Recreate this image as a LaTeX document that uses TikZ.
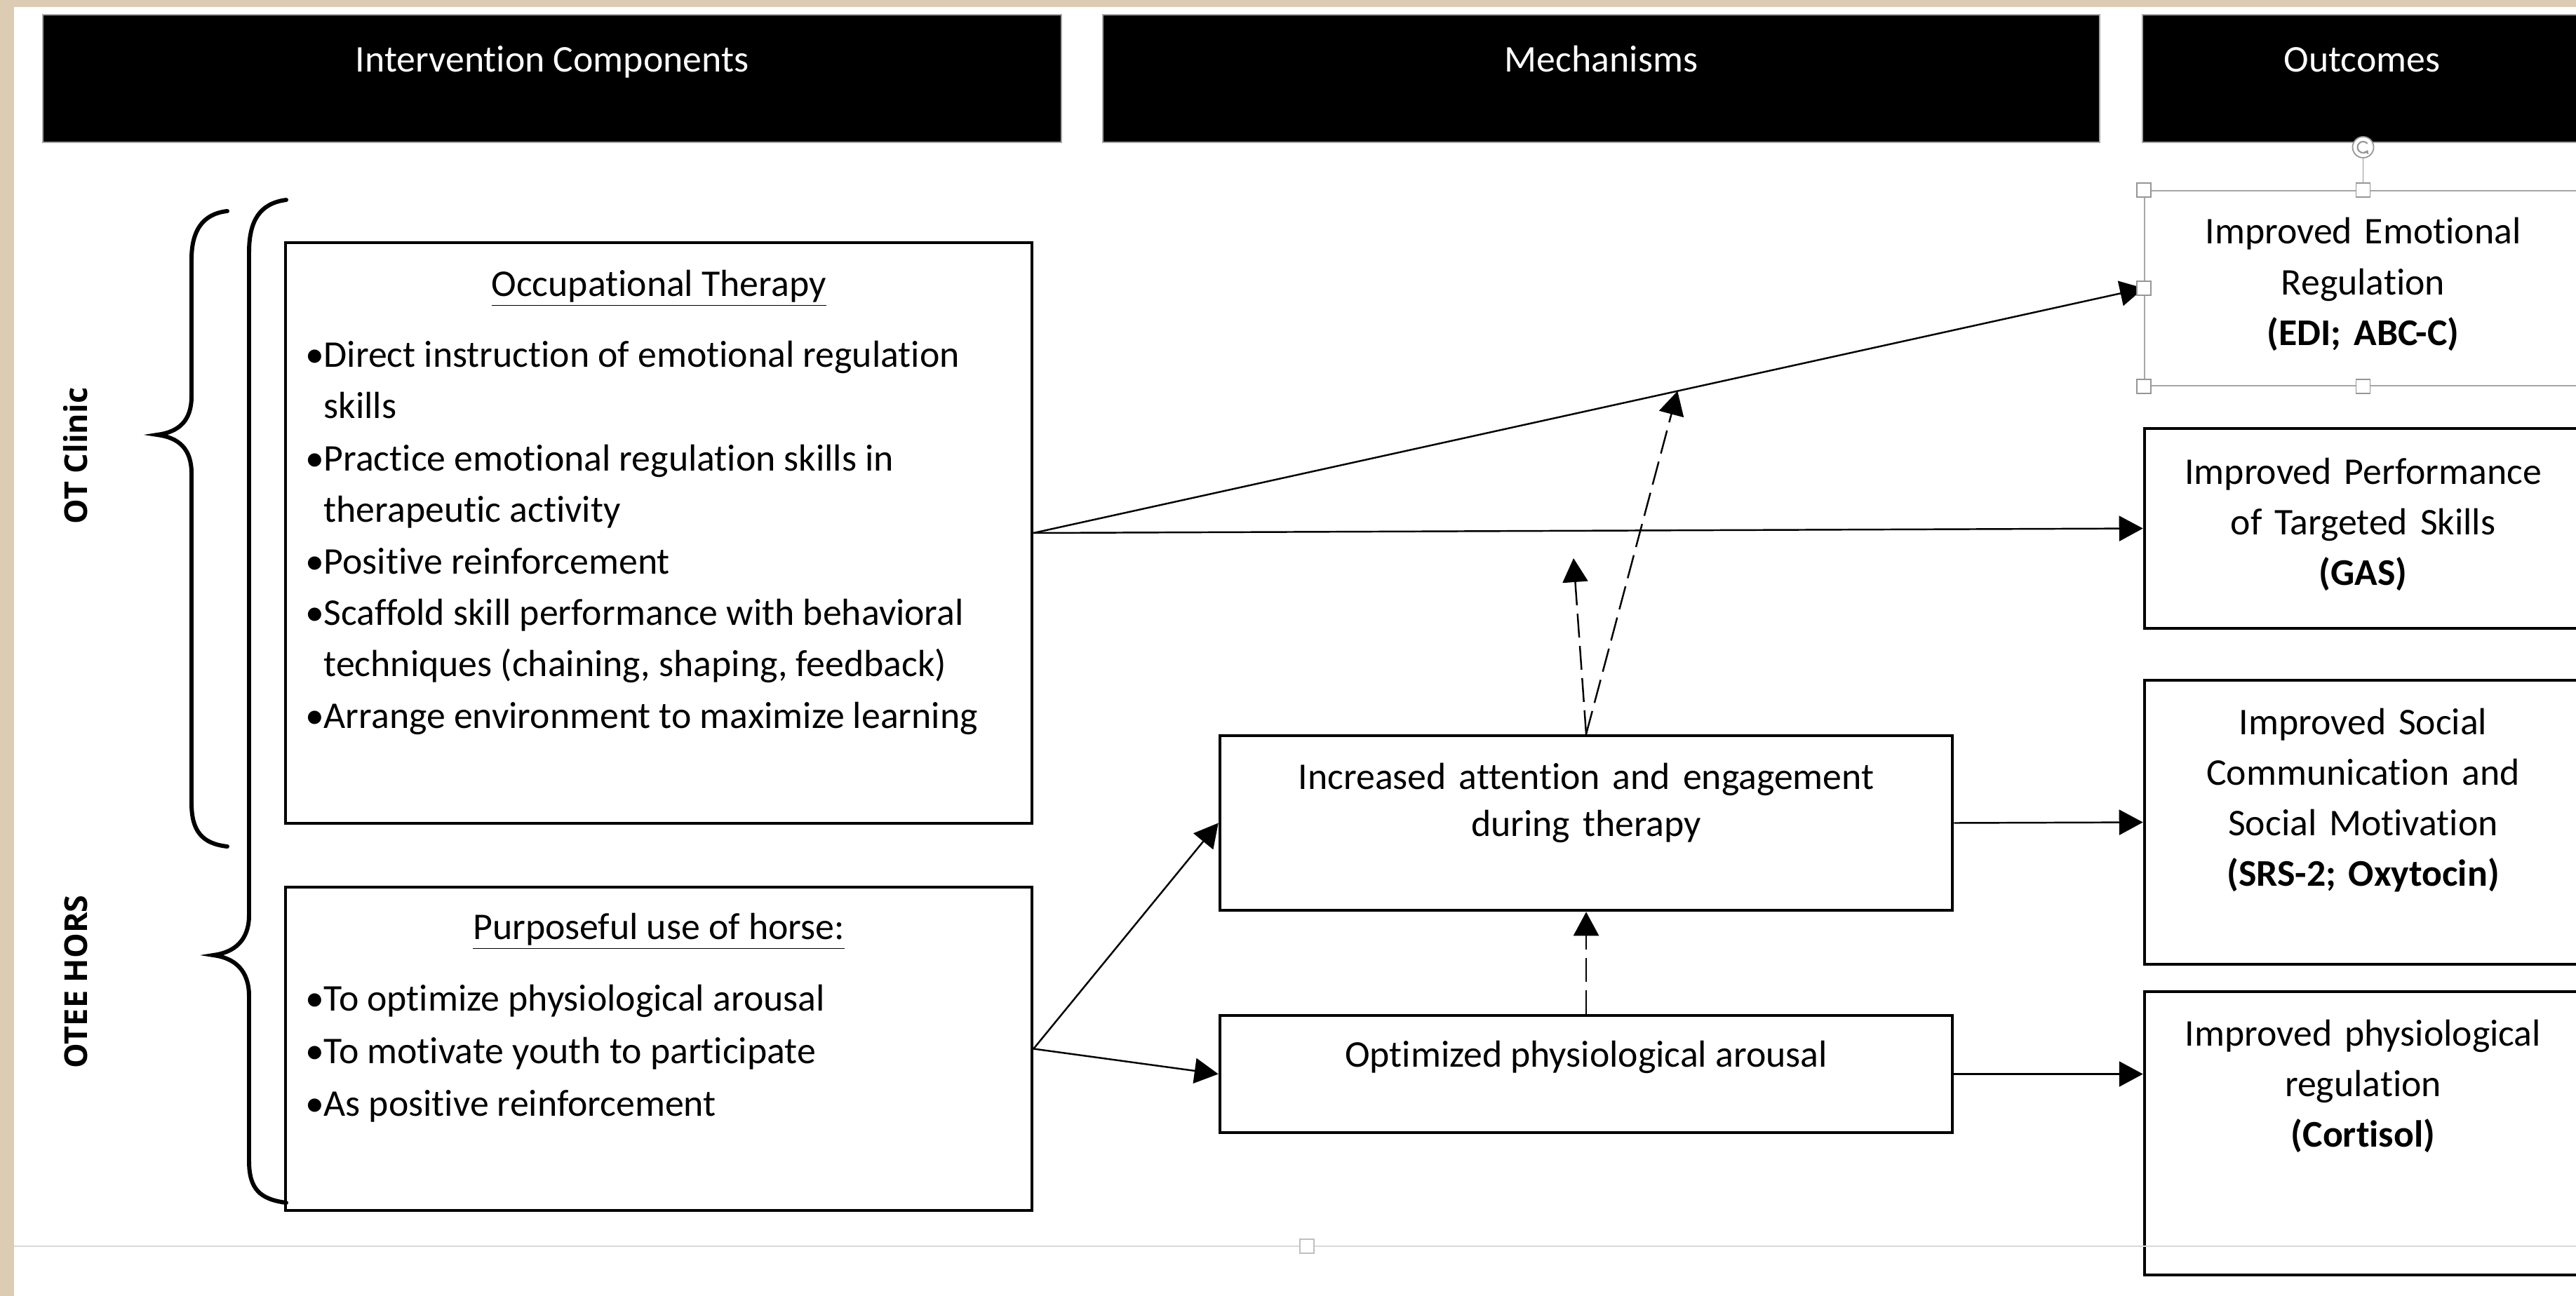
\documentclass[tikz,border=0pt]{standalone}
\usepackage{fontspec}
\setmainfont{Carlito}[Ligatures=NoCommon]
\newfontfamily\sidefont{Open Sans}
\usetikzlibrary{arrows.meta,positioning,calc}
\frenchspacing

\definecolor{paper}{RGB}{221,204,180}
\definecolor{handlegray}{RGB}{150,150,150}

\tikzset{
  hdr/.style={fill=black, draw=gray!70, line width=0.4pt, text=white, inner sep=0pt,
    text height=0.82cm, text depth=1.0cm, font=\fontsize{15.3}{18}\selectfont},
  box/.style={draw=black, line width=1.3pt, inner sep=0pt},
  txt/.style={font=\fontsize{15.3}{20.5}\selectfont, inner sep=0pt},
  flow/.style={line width=0.7pt, -{Triangle[length=3.4mm,width=3.6mm]}},
  dflow/.style={flow, dash pattern=on 3.4mm off 1.2mm},
  brace/.style={line width=1.7pt, line cap=round},
  grip/.style={draw=handlegray, fill=white, line width=0.5pt, minimum size=0.2cm, inner sep=0pt},
  side/.style={font=\sidefont\bfseries\fontsize{12.8}{15}\selectfont, rotate=90, anchor=base, inner sep=0pt},
}

\newcommand{\blt}{\makebox[0.26cm][l]{\textbullet}}

\begin{document}
\begin{tikzpicture}
    \useasboundingbox (0,0) rectangle (36.72,-18.48);
    \clip (0,0) rectangle (36.72,-18.48);
    \fill[paper] (0,0) rectangle (36.72,-18.48);
    \fill[white] (0.20,-0.10) rectangle (36.72,-18.48);

    % column headers
    \node[hdr, minimum width=14.52cm] (hint) at (7.87,-1.12) {Intervention Components};
    \node[hdr, minimum width=14.21cm] (hmech) at (22.825,-1.12) {Mechanisms};
    \node[hdr, minimum width=6.26cm] (hout) at (33.67,-1.12) {Outcomes};

    % intervention components
    \node[box, minimum width=10.64cm, minimum height=8.28cm] (ot) at (9.39,-7.60) {};
    \node[txt, anchor=base] (ottitle) at (9.39,-4.22) {\underline{Occupational Therapy}};
    \node[txt, anchor=base west] (ot1) at (4.35,-5.24) {\blt Direct instruction of emotional regulation};
    \node[txt, anchor=base west] (ot2) at (4.61,-5.97) {skills};
    \node[txt, anchor=base west] (ot3) at (4.35,-6.71) {\blt Practice emotional regulation skills in};
    \node[txt, anchor=base west] (ot4) at (4.61,-7.44) {therapeutic activity};
    \node[txt, anchor=base west] (ot5) at (4.35,-8.18) {\blt Positive reinforcement};
    \node[txt, anchor=base west] (ot6) at (4.35,-8.91) {\blt Scaffold skill performance with behavioral};
    \node[txt, anchor=base west] (ot7) at (4.61,-9.64) {techniques (chaining, shaping, feedback)};
    \node[txt, anchor=base west] (ot8) at (4.35,-10.38) {\blt Arrange environment to maximize learning};

    \node[box, minimum width=10.64cm, minimum height=4.61cm] (otee) at (9.39,-14.955) {};
    \node[txt, anchor=base] (oteetitle) at (9.39,-13.39) {\underline{Purposeful use of horse:}};
    \node[txt, anchor=base west] (otee1) at (4.35,-14.41) {\blt To optimize physiological arousal};
    \node[txt, anchor=base west] (otee2) at (4.35,-15.16) {\blt To motivate youth to participate};
    \node[txt, anchor=base west] (otee3) at (4.35,-15.91) {\blt As positive reinforcement};

    % braces and setting labels
    \draw[brace] (3.24,-3.01) .. controls (2.88,-3.05) and (2.73,-3.30) .. (2.73,-3.70)
        -- (2.73,-5.65) .. controls (2.73,-6.00) and (2.55,-6.16) .. (2.24,-6.20)
        .. controls (2.55,-6.24) and (2.73,-6.40) .. (2.73,-6.75)
        -- (2.73,-11.45) .. controls (2.73,-11.85) and (2.88,-12.03) .. (3.24,-12.07);
    \draw[brace] (4.08,-2.85) .. controls (3.70,-2.90) and (3.55,-3.15) .. (3.55,-3.60)
        -- (3.55,-13.05) .. controls (3.55,-13.40) and (3.35,-13.58) .. (3.04,-13.62)
        .. controls (3.35,-13.66) and (3.55,-13.84) .. (3.55,-14.20)
        -- (3.55,-16.55) .. controls (3.55,-16.95) and (3.70,-17.10) .. (4.08,-17.15);
    \node[side] (otclinic) at (1.25,-6.50) {OT Clinic};
    \node[side] (oteehors) at (1.25,-14.00) {OTEE HORS};

    % mechanisms
    \node[box, minimum width=10.44cm, minimum height=2.49cm] (inc) at (22.61,-11.735) {};
    \node[txt, text width=9cm, align=center, anchor=base, font=\fontsize{15.3}{19.1}\selectfont] (inct) at (22.61,-11.25) {Increased attention and engagement\\during therapy};
    \node[box, minimum width=10.44cm, minimum height=1.67cm] (opt) at (22.61,-15.315) {};
    \node[txt, anchor=base] (optt) at (22.61,-15.21) {Optimized physiological arousal};

    % outcomes
    \node[draw=gray!70, line width=0.6pt, minimum width=6.23cm, minimum height=2.78cm, inner sep=0pt] (out1) at (33.685,-4.11) {};
    \node[txt, text width=6cm, align=center, anchor=base] (out1t) at (33.685,-3.48) {Improved Emotional\\Regulation\\\textbf{(EDI; ABC-C)}};
    \node[box, minimum width=6.23cm, minimum height=2.85cm] (out2) at (33.685,-7.535) {};
    \node[txt, text width=6cm, align=center, anchor=base] (out2t) at (33.685,-6.90) {Improved Performance\\of Targeted Skills\\\textbf{(GAS)}};
    \node[box, minimum width=6.23cm, minimum height=4.05cm] (out3) at (33.685,-11.725) {};
    \node[txt, text width=6cm, align=center, anchor=base] (out3t) at (33.685,-10.47) {Improved Social\\Communication and\\Social Motivation\\\textbf{(SRS-2; Oxytocin)}};
    \node[box, minimum width=6.23cm, minimum height=4.04cm] (out4) at (33.685,-16.16) {};
    \node[txt, text width=6cm, align=center, anchor=base] (out4t) at (33.685,-14.91) {Improved physiological\\regulation\\\textbf{(Cortisol)}};

    % connectors
    \draw[flow] (ot.east) -- (out1.west);
    \draw[flow] (ot.east) -- (out2.west);
    \draw[flow] (otee.east) -- (inc.west);
    \draw[flow] (otee.east) -- (opt.west);
    \draw[flow] (inc.east) -- (out3.west);
    \draw[flow] (opt.east) -- (opt.east -| out4.west);
    \draw[dflow] (opt.north) -- (inc.south);
    \coordinate (modtip) at ($(ot.east)!0.58!(out1.west)$);
    \coordinate (modfree) at (22.43,-7.96);
    \draw[dflow] (inc.north) -- (modtip);
    \draw[dflow] (inc.north) -- (modfree);

    % selection handles
    \node[grip] (g1) at (out1.north west) {};
    \node[grip] (g3) at (out1.south west) {};
    \node[grip] (g4) at (out1.south) {};
    \node[grip] (g5) at (out1.west) {};
    \node[circle, draw=handlegray, fill=white, line width=0.5pt, minimum size=0.3cm, inner sep=0pt] (rot) at ($(out1.north)+(0,0.61)$) {};
    \draw[handlegray, line width=0.5pt] (rot) -- (out1.north);
    \node[grip] (g2) at (out1.north) {};
    \draw[handlegray, line width=0.6pt, -{Triangle[length=0.5mm,width=0.7mm]}] ($(rot)+(40:0.08)$) arc (40:330:0.08);

    % page edge
    \draw[gray!30, line width=0.6pt] (0.20,-17.77) -- (36.72,-17.77);
    \node[grip, draw=gray!50] (pg) at (18.63,-17.77) {};
\end{tikzpicture}
\end{document}
